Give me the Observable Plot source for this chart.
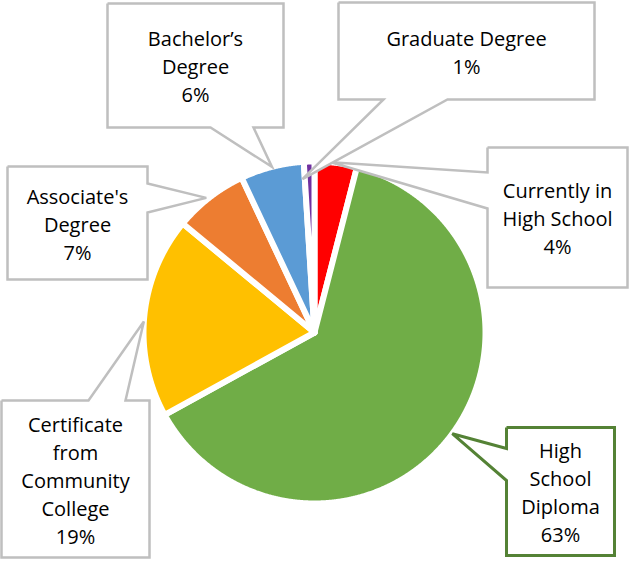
<!DOCTYPE html>
<html>
<head>
<meta charset="utf-8">
<script src="https://cdn.jsdelivr.net/npm/d3@7"></script>
<script src="https://cdn.jsdelivr.net/npm/@observablehq/plot@0.6"></script>
<style>
  html, body { margin: 0; padding: 0; background: #fff; }
  #chart svg { display: block; }
</style>
</head>
<body>
<div id="chart"></div>
<script>
// ---- data ----
const categories = ["Currently in High School", "High School Diploma", "Certificate from Community College", "Associate's Degree", "Bachelor’s Degree", "Graduate Degree"];
const values = [4, 63, 19, 7, 6, 1];
const colors = ["#FF0000", "#70AD47", "#FFC000", "#ED7D31", "#5B9BD5", "#7030A0"];
const labelLines = ["Currently in\nHigh School", "High\nSchool\nDiploma", "Certificate\nfrom\nCommunity\nCollege", "Associate's\nDegree", "Bachelor’s\nDegree", "Graduate Degree"];

// ---- layout ----
const W = 637, H = 566;
const cx = 314, cy = 332, R = 171;
const fontFamily = "'Open Sans', 'Noto Sans', sans-serif";
// callout boxes [x0, y0, x1, y1], pointer side, pointer base span, tip angle offset (deg), tip radius factor
const callouts = [
  {box: [487, 147, 627, 287], side: "left",   base: [172, 208], dAng: -1.7, rf: 1.0,  stroke: "#BFBFBF", sw: 2.5},
  {box: [506, 427, 614, 555], side: "left",   base: [448, 480], dAng: -1.5, rf: 1.0,  stroke: "#548235", sw: 3},
  {box: [1, 400, 149, 557],   side: "top",    base: [88, 125],  dAng: -1.7, rf: 1.0,  stroke: "#BFBFBF", sw: 2.5},
  {box: [7, 166, 147, 279],   side: "right",  base: [183, 212], dAng: -1.0, rf: 1.01, stroke: "#BFBFBF", sw: 2.5},
  {box: [107, 3, 283, 127],   side: "bottom", base: [210, 253], dAng: 0,    rf: 1.0,  stroke: "#BFBFBF", sw: 2.5},
  {box: [338, 2, 594, 99],    side: "bottom", base: [383, 447], dAng: -2.7, rf: 0.9,  stroke: "#BFBFBF", sw: 2.5}
];

// ---- derived geometry ----
const arcs = d3.pie().sort(null).value(d => d)(values);
const pt = (a, r) => [cx + r * Math.sin(a), cy - r * Math.cos(a)];

const sliceRows = [];
arcs.forEach((a, i) => {
  const n = Math.max(4, Math.ceil((a.endAngle - a.startAngle) / (Math.PI / 720)));
  sliceRows.push({key: i, color: colors[i], x: cx, y: cy});
  for (let k = 0; k <= n; k++) {
    const t = a.startAngle + (a.endAngle - a.startAngle) * k / n;
    const [x, y] = pt(t, R);
    sliceRows.push({key: i, color: colors[i], x, y});
  }
  sliceRows.push({key: i, color: colors[i], x: cx, y: cy});
});

const calloutRows = [];
const textRows = [];
callouts.forEach((c, i) => {
  const a = arcs[i];
  const mid = (a.startAngle + a.endAngle) / 2 + c.dAng * Math.PI / 180;
  const [tx, ty] = pt(mid, R * c.rf);
  const [x0, y0, x1, y1] = c.box;
  const [b0, b1] = c.base;
  const p = [];
  p.push([x0, y0]);
  if (c.side === "top") p.push([b0, y0], [tx, ty], [b1, y0]);
  p.push([x1, y0]);
  if (c.side === "right") p.push([x1, b0], [tx, ty], [x1, b1]);
  p.push([x1, y1]);
  if (c.side === "bottom") p.push([b1, y1], [tx, ty], [b0, y1]);
  p.push([x0, y1]);
  if (c.side === "left") p.push([x0, b1], [tx, ty], [x0, b0]);
  p.push([x0, y0]);
  p.forEach(([x, y]) => calloutRows.push({key: i, stroke: c.stroke, sw: c.sw, x, y}));
  textRows.push({x: (x0 + x1) / 2, y: (y0 + y1) / 2, text: labelLines[i] + "\n" + values[i] + "%"});
});

const chart = Plot.plot({
  width: W,
  height: H,
  margin: 0,
  x: {domain: [0, W], range: [0, W], axis: null},
  y: {domain: [0, H], range: [0, H], axis: null},
  color: {type: "identity"},
  style: {background: "#fff", fontFamily},
  marks: [
    Plot.line(sliceRows, {x: "x", y: "y", z: "key", fill: "color", stroke: "#fff", strokeWidth: 6, strokeLinejoin: "round", curve: "linear"}),
    Plot.line(calloutRows.filter(d => d.sw === 2.5), {x: "x", y: "y", z: "key", fill: "#fff", stroke: "stroke", strokeWidth: 2.5, strokeLinejoin: "miter", strokeMiterlimit: 4, strokeLinecap: "butt", curve: "linear"}),
    Plot.line(calloutRows.filter(d => d.sw === 3), {x: "x", y: "y", z: "key", fill: "#fff", stroke: "stroke", strokeWidth: 3, strokeLinejoin: "miter", strokeMiterlimit: 4, strokeLinecap: "butt", curve: "linear"}),
    Plot.text(textRows, {x: "x", y: "y", text: "text", fontSize: 20, lineHeight: 1.4, fill: "#000", fontFamily, textAnchor: "middle"})
  ]
});
document.getElementById("chart").appendChild(chart);
</script>
</body>
</html>
